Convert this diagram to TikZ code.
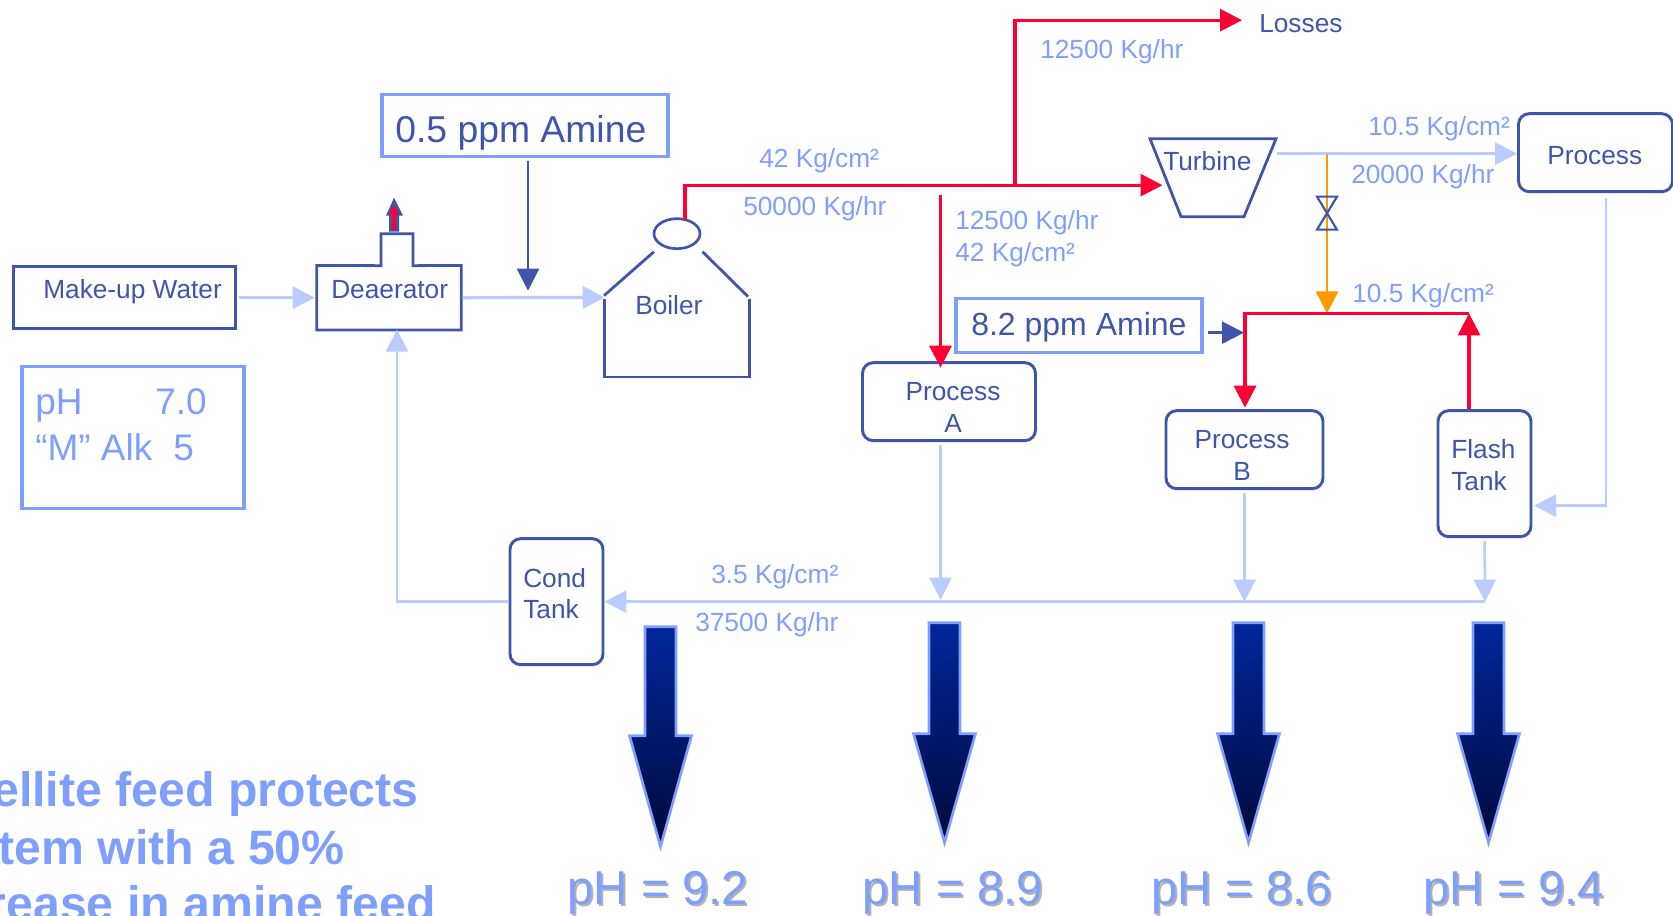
\documentclass[tikz,border=0pt]{standalone}
\usepackage{fontspec}
\setmainfont{Liberation Sans}
\usetikzlibrary{arrows.meta,shapes.geometric}
\definecolor{dk}{HTML}{3F55AA}
\definecolor{lt}{HTML}{7F9FFF}
\definecolor{pale}{HTML}{B9CBFF}
\definecolor{rd}{HTML}{FF0033}
\definecolor{og}{HTML}{FF9900}
\definecolor{shtop}{HTML}{00269A}
\definecolor{shbot}{HTML}{000A3C}
\newcommand{\fsmall}{\fontsize{19.7pt}{23pt}\selectfont}
\tikzset{
  dkbox/.style={draw=dk,line width=2.2pt,inner sep=0pt},
  ltbox/.style={draw=lt,line width=2.3pt,inner sep=0pt},
  procbox/.style={dkbox,rounded corners=8pt},
  ghost/.style={inner sep=0pt},
  ntxt/.style={text=dk,anchor=base west,inner sep=0pt,font=\fsmall},
  ctxt/.style={text=dk,anchor=base,inner sep=0pt,font=\fsmall},
  ltxt/.style={text=lt,anchor=base west,inner sep=0pt,font=\fsmall},
  bigtxt/.style={anchor=base west,inner sep=0pt},
  boldtxt/.style={text=lt,anchor=base east,inner sep=0pt,font=\fontsize{36.2pt}{40pt}\selectfont\bfseries},
  tip/.style={-{Triangle[length=16.5pt,width=16.5pt]}},
  paleline/.style={draw=pale,line width=2.4pt,tip},
  palethin/.style={draw=pale,line width=1.9pt,tip},
  redline/.style={draw=rd,line width=2.4pt,tip},
  orline/.style={draw=og,line width=2.2pt,tip},
  dkline/.style={draw=dk,line width=1.8pt,tip},
  shape line/.style={draw=dk,line width=2.1pt,line cap=butt},
  bigarrow/.style={top color=shtop,bottom color=shbot,draw=lt,line width=2pt,line join=miter},
}
\newcommand{\downarrowbig}[4]{%
  \shadedraw[bigarrow] (#1-15.5,#2) -- (#1+15.5,#2) -- (#1+15.5,#3) -- (#1+31,#3) -- (#1,#4) -- (#1-31,#3) -- (#1-15.5,#3) -- cycle;}
\newcommand{\phlabel}[4]{%
  \node[bigtxt,text=black!30,font=\fontsize{35.6pt}{40pt}\selectfont] (#1s) at (#2+2,#3+2) {#4};
  \node[bigtxt,text=lt,font=\fontsize{35.6pt}{40pt}\selectfont] (#1) at (#2,#3) {#4};}
\begin{document}
\begin{tikzpicture}[x=0.75pt,y=-0.75pt]
\useasboundingbox (0,0) rectangle (1673,915);
\clip (0,0) rectangle (1673,915);
\begin{scope}[yshift=-0.5pt]

% boxes
\node[dkbox,minimum width=221.5*0.75pt,minimum height=62*0.75pt] (make) at (124.3,297) {};
\node[ntxt] (maket) at (43,298) {Make-up Water};
\node[ltbox,minimum width=222*0.75pt,minimum height=142*0.75pt] (phbox) at (133,437) {};
\node[bigtxt,text=lt,font=\fontsize{27.75pt}{30pt}\selectfont] (ph1) at (35,414) {pH};
\node[bigtxt,text=lt,font=\fontsize{27.75pt}{30pt}\selectfont] (ph1v) at (155,414) {7.0};
\node[bigtxt,text=lt,font=\fontsize{27.75pt}{30pt}\selectfont] (ph2) at (35,460) {“M” Alk};
\node[bigtxt,text=lt,font=\fontsize{27.75pt}{30pt}\selectfont] (ph2v) at (173,460) {5};

\node[ltbox,minimum width=286*0.75pt,minimum height=62*0.75pt] (am1) at (525,125) {};
\node[bigtxt,text=dk,font=\fontsize{28pt}{30pt}\selectfont] (am1t) at (395,142) {0.5 ppm Amine};
\node[ltbox,minimum width=246*0.75pt,minimum height=54*0.75pt] (am2) at (1079,325) {};
\node[bigtxt,text=dk,font=\fontsize{24pt}{28pt}\selectfont] (am2t) at (971,335) {8.2 ppm Amine};

% deaerator
\node[ghost,minimum width=144*0.75pt,minimum height=64*0.75pt] (deaer) at (389,297) {};
\draw[shape line] (deaer.south west) -- (deaer.north west) -- (381,265) -- (381,233) -- (413,233) -- (413,265) -- (deaer.north east) -- (deaer.south east) -- cycle;
\node[ntxt] (deaert) at (331,298) {Deaerator};
\fill[dk] (389,231) -- (389,215) -- (386,215) -- (394,197) -- (403,215) -- (399,215) -- (399,231) -- cycle;
\draw[draw=rd,line width=2.4pt,-{Triangle[length=7.5pt,width=7pt]}] (394,229) -- (394,204);

% boiler
\node[ghost,minimum width=144*0.75pt,minimum height=79*0.75pt] (boiler) at (677,336.5) {};
\node[draw=dk,line width=2pt,ellipse,minimum width=46*0.75pt,minimum height=30*0.75pt,inner sep=0pt] (btop) at (677,233) {};
\draw[shape line] (654,251) -- (604,295);
\draw[shape line] (702.5,251) -- (748,296);
\draw[shape line] (boiler.north west) ++(0,2) -- (boiler.south west) -- (boiler.south east) -- ++(0,-78);
\node[ntxt] (boilert) at (635,314) {Boiler};

% turbine
\node[ghost,minimum width=126*0.75pt,minimum height=78*0.75pt] (turb) at (1213,177) {};
\draw[shape line,line join=miter] (1150,138) -- (1276,138) -- (1244,216) -- (1181,216) -- cycle;
\node[ntxt] (turbt) at (1163,170) {Turbine};

% process boxes
\node[procbox,minimum width=154*0.75pt,minimum height=78*0.75pt] (proc) at (1595.5,152) {};
\node[ntxt] (proct) at (1547,164) {Process};
\node[procbox,minimum width=173*0.75pt,minimum height=78*0.75pt] (procA) at (949,401) {};
\node[ctxt] (procAt) at (953,400) {Process};
\node[ctxt] (procAl) at (953,432) {A};
\node[procbox,minimum width=157*0.75pt,minimum height=78*0.75pt] (procB) at (1244.5,449) {};
\node[ctxt] (procBt) at (1242,448) {Process};
\node[ctxt] (procBl) at (1242,480) {B};
\node[procbox,minimum width=93*0.75pt,minimum height=126*0.75pt] (flash) at (1484.5,473) {};
\node[ntxt] (flasht) at (1451,458) {Flash};
\node[ntxt] (flashl) at (1451,490) {Tank};
\node[procbox,minimum width=93*0.75pt,minimum height=126*0.75pt] (cond) at (556.5,601) {};
\node[ntxt] (condt) at (523,587) {Cond};
\node[ntxt] (condl) at (523,618) {Tank};
\node[ntxt] (loss) at (1259,32) {Losses};

% junctions
\coordinate (j1) at (1015,184.5);
\coordinate (j2) at (1245,312.7);
\coordinate (j3) at (1469,312.7);
\coordinate (j4) at (1327,312.7);
\coordinate (j5) at (1485,601);
\coordinate (btip) at (1245,407);
\coordinate (ltip) at (1242,19.5);
\coordinate (tin) at (1162.5,184.5);
\coordinate (steam) at (685,219);
\coordinate (aA) at (940.5,194);
\coordinate (aAtip) at (940.5,367);
\coordinate (tout) at (1277,153);
\coordinate (tap) at (1327,153);
\coordinate (retin) at (397,329);
\coordinate (a1) at (528,160);
\coordinate (a1tip) at (528,290);
\coordinate (a2tip) at (1244,332);
\coordinate (ftip) at (1534,505);
\coordinate (corner) at (1606,505);

% pale connectors
\draw[paleline,shorten <=2pt,shorten >=1.5pt] (make.east) -- (deaer.west);
\draw[paleline,shorten <=1pt] (deaer.east) -- (boiler.north west);
\draw[paleline] (tout) -- (proc.west |- tout);
\draw[palethin] (proc.south -| corner) ++(0,5) -- (corner) -- (ftip);
\draw[paleline] (j5) -- (cond.east);
\draw[palethin] (cond.west) -- (397,601) -- (retin);
\draw[palethin,shorten <=2.5pt] (procA.south -| aA) -- (940.5,599);
\draw[palethin,shorten <=2pt] (procB.south) -- (procB.south |- j5);
\draw[palethin,shorten <=2pt] (flash.south) -- (j5);

% orange
\draw[orline] (tap) -- (j4);
\draw[draw=dk,line width=1.6pt,line join=miter] (1317,196) -- (1337,196) -- (1317,229) -- (1337,229) -- cycle;

% red
\draw[redline] (steam) |- (tin);
\draw[redline] (j1) |- (ltip);
\draw[redline] (aA) -- (aAtip);
\draw[redline] (j3) -- (j2) -- (btip);
\draw[redline] (flash.north -| j3) -- (j3);

% dark
\draw[dkline] (a1) -- (a1tip);
\draw[dkline] (1208,332) -- (a2tip);

% flow labels
\node[ltxt] (l1) at (759,167) {42 Kg/cm²};
\node[ltxt] (l2) at (743,215) {50000 Kg/hr};
\node[ltxt] (l3) at (1040,58) {12500 Kg/hr};
\node[ltxt] (l4) at (955,229) {12500 Kg/hr};
\node[ltxt] (l5) at (955,261) {42 Kg/cm²};
\node[ltxt] (l6) at (1368,135) {10.5 Kg/cm²};
\node[ltxt] (l7) at (1351,183) {20000 Kg/hr};
\node[ltxt] (l8) at (1352,302) {10.5 Kg/cm²};
\node[ltxt] (l9) at (711,583) {3.5 Kg/cm²};
\node[ltxt] (l10) at (695,631) {37500 Kg/hr};

% big arrows
\downarrowbig{660.5}{626}{735}{846}
\downarrowbig{944.5}{622}{733}{842}
\downarrowbig{1248.5}{622}{733}{842}
\downarrowbig{1488.5}{622}{733}{842}

\phlabel{ph92}{567}{904}{pH = 9.2}
\phlabel{ph89}{862}{904}{pH = 8.9}
\phlabel{ph86}{1151}{904}{pH = 8.6}
\phlabel{ph94}{1423}{904}{pH = 9.4}

% clipped text
\node[boldtxt] (t1) at (419,806) {ellite feed protects};
\node[boldtxt] (t2) at (345,864) {tem with a 50\%};
\node[boldtxt] (t3) at (436,920) {rease in amine feed};
\end{scope}
\end{tikzpicture}
\end{document}
